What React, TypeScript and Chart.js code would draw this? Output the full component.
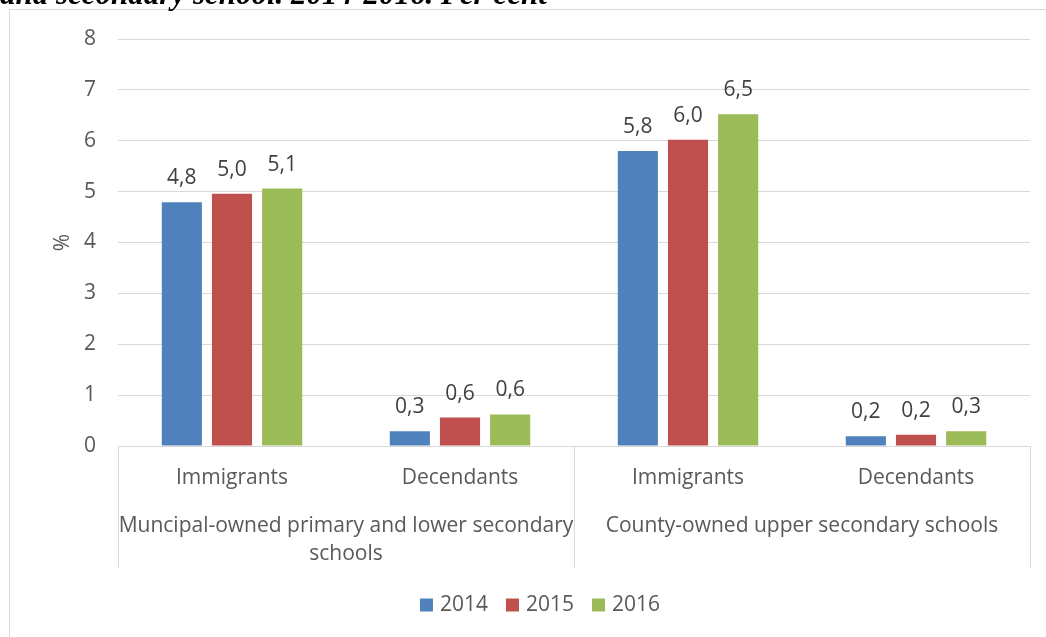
import React, { useEffect, useRef } from "react";
import { Chart, registerables } from "chart.js";

Chart.register(...registerables);

const categories = ["Immigrants", "Decendants", "Immigrants", "Decendants"];
const groupLabels = [
  ["Muncipal-owned primary and lower secondary", "schools"],
  ["County-owned upper secondary schools"],
];
const groupSpans = [
  [0, 1],
  [2, 3],
];
const seriesLabels = ["2014", "2015", "2016"];
const values2014 = [4.79, 0.29, 5.8, 0.19];
const values2015 = [4.96, 0.56, 6.02, 0.22];
const values2016 = [5.06, 0.62, 6.52, 0.29];
const seriesColors = ["#4F81BD", "#C0504D", "#9BBB59"];
const yMin = 0;
const yMax = 8;
const yStep = 1;
const titleText = "and secondary school. 2014-2016. Per cent";

const FONT = "'Open Sans', sans-serif";
const FS = 21;
const TEXT = "#595959";
const GRID = "#d9d9d9";

const fmt = (v: number) => v.toFixed(1).replace(".", ",");

const extras = {
  id: "extras",
  beforeDraw(chart: any) {
    const ctx = chart.ctx;
    ctx.save();
    ctx.strokeStyle = GRID;
    ctx.lineWidth = 1;
    ctx.beginPath();
    ctx.moveTo(9.5, chart.height);
    ctx.lineTo(9.5, 9.5);
    ctx.lineTo(chart.width, 9.5);
    ctx.stroke();
    ctx.restore();
  },
  afterDatasetsDraw(chart: any) {
    const ctx = chart.ctx;
    ctx.save();
    ctx.font = `${FS}px ${FONT}`;
    ctx.fillStyle = "#404040";
    ctx.textAlign = "center";
    ctx.textBaseline = "alphabetic";
    chart.data.datasets.forEach((ds: any, i: number) => {
      const meta = chart.getDatasetMeta(i);
      meta.data.forEach((bar: any, j: number) => {
        ctx.fillText(fmt(ds.data[j]), bar.x, bar.y - 18);
      });
    });
    ctx.restore();
  },
  afterDraw(chart: any) {
    const ctx = chart.ctx;
    const xs = chart.scales.x;
    const area = chart.chartArea;
    const bottom = area.bottom;
    const step = xs.getPixelForValue(1) - xs.getPixelForValue(0);
    ctx.save();
    ctx.strokeStyle = GRID;
    ctx.lineWidth = 1;
    const bounds: number[] = [];
    groupSpans.forEach((g) => {
      bounds.push(xs.getPixelForValue(g[0]) - step / 2);
    });
    bounds.push(xs.getPixelForValue(groupSpans[groupSpans.length - 1][1]) + step / 2);
    bounds.forEach((x) => {
      const px = Math.round(x) + 0.5;
      ctx.beginPath();
      ctx.moveTo(px, bottom);
      ctx.lineTo(px, bottom + 122);
      ctx.stroke();
    });
    ctx.font = `${FS}px ${FONT}`;
    ctx.fillStyle = TEXT;
    ctx.textAlign = "center";
    ctx.textBaseline = "alphabetic";
    groupSpans.forEach((g, gi) => {
      const cx = (xs.getPixelForValue(g[0]) + xs.getPixelForValue(g[1])) / 2;
      groupLabels[gi].forEach((line, li) => {
        ctx.fillText(line, cx, bottom + 86 + li * 28);
      });
    });
    const box = 13;
    const gapBoxText = 7;
    const gapItems = 18;
    const widths = chart.data.datasets.map((ds: any) => ctx.measureText(ds.label).width);
    const total =
      widths.reduce((a: number, w: number) => a + box + gapBoxText + w, 0) +
      gapItems * (widths.length - 1);
    let x = 540 - total / 2;
    const ly = bottom + 159;
    ctx.textAlign = "left";
    ctx.textBaseline = "middle";
    chart.data.datasets.forEach((ds: any, i: number) => {
      ctx.fillStyle = ds.backgroundColor;
      ctx.fillRect(x, ly - box / 2, box, box);
      x += box + gapBoxText;
      ctx.fillStyle = TEXT;
      ctx.fillText(ds.label, x, ly);
      x += widths[i] + gapItems;
    });
    ctx.restore();
  },
};

export default function App() {
  const ref = useRef<HTMLCanvasElement | null>(null);
  useEffect(() => {
    if (!ref.current) return;
    const chart = new Chart(ref.current, {
      type: "bar",
      data: {
        labels: categories,
        datasets: [values2014, values2015, values2016].map((d, i) => ({
          label: seriesLabels[i],
          data: d,
          backgroundColor: seriesColors[i],
          borderWidth: 0,
          categoryPercentage: 0.66,
          barPercentage: 0.8,
        })),
      },
      options: {
        responsive: false,
        animation: false,
        layout: { padding: { left: 0, right: 16, top: 39, bottom: 71 } },
        plugins: { legend: { display: false }, tooltip: { enabled: false }, title: { display: false } },
        scales: {
          x: {
            grid: { display: true, color: "transparent", drawTicks: false, drawOnChartArea: false },
            border: { display: true, color: GRID, width: 1 },
            ticks: { color: TEXT, font: { family: FONT, size: FS }, padding: 19, maxRotation: 0, autoSkip: false },
            afterFit: (s: any) => {
              s.height = 120;
            },
          },
          y: {
            min: yMin,
            max: yMax,
            ticks: { stepSize: yStep, color: TEXT, font: { family: FONT, size: FS }, padding: 22 },
            grid: { color: GRID, drawTicks: false },
            border: { display: false },
            title: { display: true, text: "%", color: TEXT, font: { family: FONT, size: FS }, padding: { top: 50, bottom: 0 } },
            afterFit: (s: any) => {
              s.width = 118;
            },
          },
        },
      },
      plugins: [extras],
    });
    return () => chart.destroy();
  }, []);
  return (
    <div style={{ position: "absolute", left: 0, top: 0, width: 1046, height: 637, overflow: "hidden", background: "#fff" }}>
      <canvas ref={ref} width={1046} height={637} style={{ display: "block" }} />
      <div
        style={{
          position: "absolute",
          left: 0,
          top: -22,
          fontFamily: "'Liberation Serif', serif",
          fontStyle: "italic",
          fontWeight: "bold",
          fontSize: 31,
          lineHeight: "31px",
          whiteSpace: "nowrap",
          color: "#000",
        }}
      >
        {titleText}
      </div>
    </div>
  );
}
